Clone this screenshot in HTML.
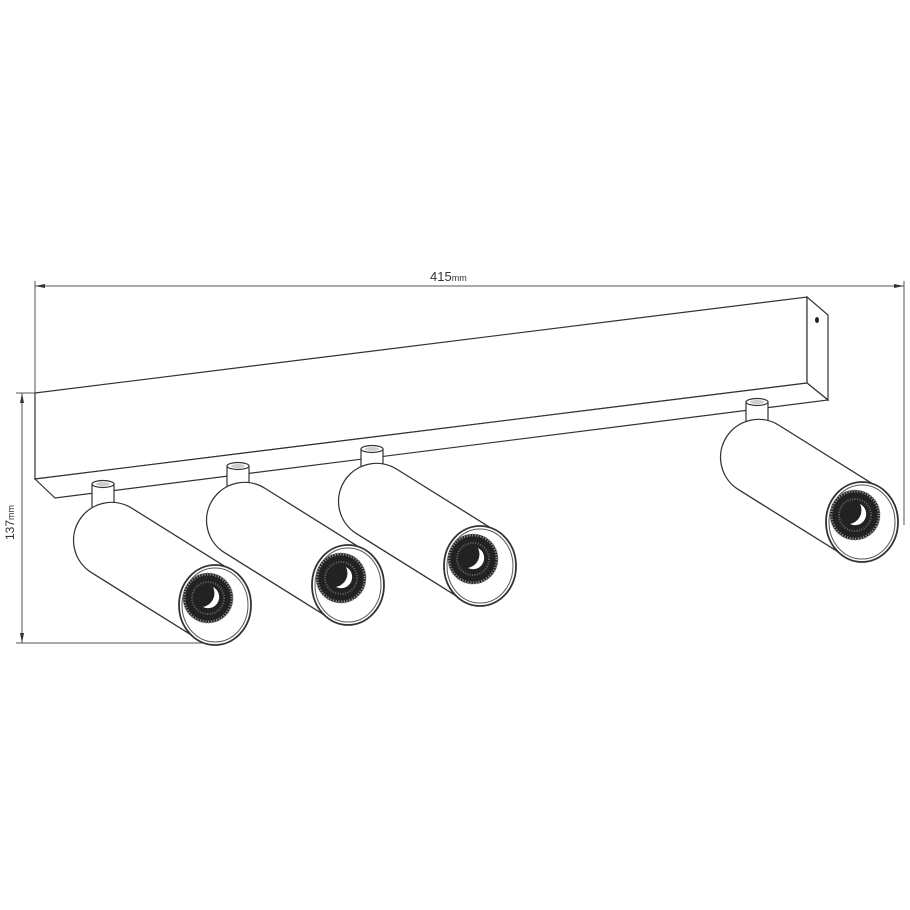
<!DOCTYPE html>
<html><head><meta charset="utf-8"><style>
html,body{margin:0;padding:0;background:#fff;}
svg{display:block;}
text{font-family:"Liberation Sans",sans-serif;fill:#333;}
</style></head><body>
<svg width="910" height="910" viewBox="0 0 910 910" xmlns="http://www.w3.org/2000/svg">
<defs>
<g id="spot">
  <path d="M0,-38 L-122,-38 A38,38 0 0 0 -122,38 L0,38" fill="#fff" stroke="#333" stroke-width="1.3"/>
</g>
<g id="lens">
  <ellipse cx="0" cy="0" rx="36" ry="40" fill="#fff" stroke="#333" stroke-width="1.8"/>
  <ellipse cx="0" cy="0" rx="33" ry="37" fill="none" stroke="#555" stroke-width="1"/>
  <circle cx="-7" cy="-7" r="25" fill="#222"/>
  <circle cx="-7" cy="-7" r="24" fill="none" stroke="#888" stroke-width="3" stroke-dasharray="1.2 1.6"/>
  <circle cx="-7" cy="-7" r="16" fill="none" stroke="#666" stroke-width="2" stroke-dasharray="1 1.5"/>
  <path d="M-2,-18 A11,11 0 0 1 -12,2 A14,14 0 0 0 -2,-18 Z" fill="#fff"/>
</g>
<g id="stem">
  <rect x="-11" y="0" width="22" height="28" fill="#fff" stroke="#333" stroke-width="1.2"/>
  <ellipse cx="0" cy="0" rx="11" ry="3.5" fill="#fff" stroke="#333" stroke-width="1.2"/>
  <ellipse cx="0" cy="0" rx="7" ry="2" fill="#ccc"/>
</g>
</defs>

<line x1="35" y1="286" x2="904" y2="286" stroke="#555" stroke-width="1"/>
<line x1="35" y1="281" x2="35" y2="393" stroke="#555" stroke-width="1"/>
<line x1="904" y1="281" x2="904" y2="525" stroke="#555" stroke-width="1"/>
<polygon points="35,286 45,284 45,288" fill="#333"/>
<polygon points="904,286 894,284 894,288" fill="#333"/>
<text x="430" y="281" font-size="13">415<tspan font-size="9">mm</tspan></text>

<line x1="22" y1="393" x2="22" y2="643" stroke="#555" stroke-width="1"/>
<line x1="16" y1="393" x2="35" y2="393" stroke="#555" stroke-width="1"/>
<line x1="16" y1="643" x2="215" y2="643" stroke="#555" stroke-width="1"/>
<polygon points="22,393 20,403 24,403" fill="#333"/>
<polygon points="22,643 20,633 24,633" fill="#333"/>
<text x="0" y="0" font-size="12" transform="translate(14,540) rotate(-90)">137<tspan font-size="9">mm</tspan></text>

<polygon points="35,393 807,297 807,383 35,479" fill="#fff" stroke="#333" stroke-width="1.2"/>
<polygon points="807,297 828,315 828,400 807,383" fill="#fff" stroke="#333" stroke-width="1.2"/>
<polygon points="35,479 807,383 828,400 55,498" fill="#fff" stroke="#333" stroke-width="1.2"/>
<ellipse cx="817" cy="320" rx="2" ry="3" fill="#222"/>

<use href="#stem" x="103" y="484"/>
<use href="#stem" x="238" y="466"/>
<use href="#stem" x="372" y="449"/>
<use href="#stem" x="757" y="402"/>

<g transform="translate(215,605) rotate(32)"><use href="#spot"/></g>
<g transform="translate(215,605)"><use href="#lens"/></g>

<g transform="translate(348,585) rotate(32)"><use href="#spot"/></g>
<g transform="translate(348,585)"><use href="#lens"/></g>

<g transform="translate(480,566) rotate(32)"><use href="#spot"/></g>
<g transform="translate(480,566)"><use href="#lens"/></g>

<g transform="translate(862,522) rotate(32)"><use href="#spot"/></g>
<g transform="translate(862,522)"><use href="#lens"/></g>
</svg>
</body></html>
